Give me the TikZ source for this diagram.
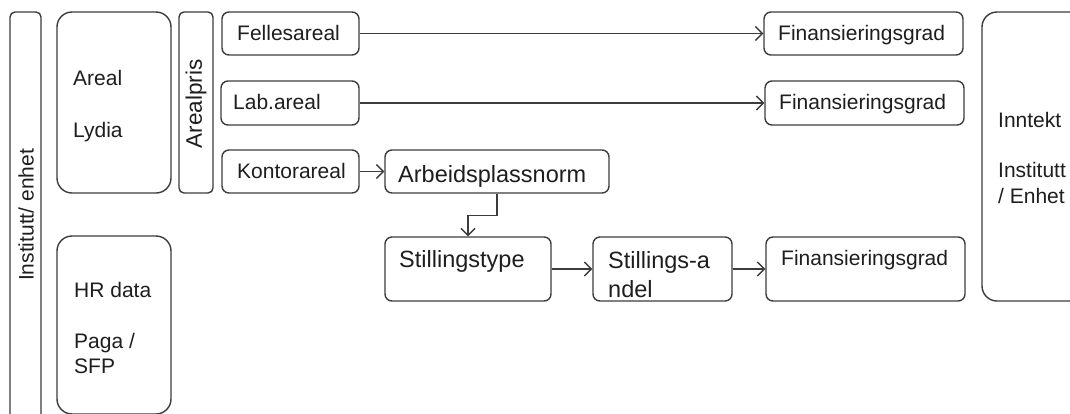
\documentclass[tikz,border=0pt]{standalone}
\usepackage{fontspec}
\setmainfont{Liberation Sans}
\usetikzlibrary{arrows.meta}
\definecolor{ln}{HTML}{3C3C3C}
\definecolor{tx}{HTML}{1E1E1E}
\tikzset{
  box/.style={draw=ln, line width=1.4pt, rounded corners=7pt, inner sep=0pt, fill=white},
  bigbox/.style={box, rounded corners=15pt},
  lbl/.style={anchor=base west, inner sep=0pt, text=tx, font=\fontsize{21}{25}\selectfont},
  biglbl/.style={lbl, font=\fontsize{23.5}{28}\selectfont},
  rotlbl/.style={text=tx, inner sep=0pt, rotate=90},
  conn/.style={draw=ln, line width=1.4pt, -{Straight Barb[length=7pt,width=14pt,line width=1.4pt]}},
}
\begin{document}
\begin{tikzpicture}[x=1pt,y=-1pt]
\fill[white] (0,0) rectangle (1070,413);
\clip (0,0) rectangle (1070,413);
% boxes
\node[box, rounded corners=5pt, minimum width=31pt, minimum height=428pt] (inst) at (25.5,226) {};
\node[bigbox, minimum width=114pt, minimum height=181pt] (areal) at (114,102.5) {};
\node[box, rounded corners=5pt, minimum width=34pt, minimum height=181pt] (pris) at (196,102.5) {};
\node[box, minimum width=137pt, minimum height=43pt] (felles) at (290.5,33.5) {};
\node[box, minimum width=138pt, minimum height=44pt] (lab) at (290,103) {};
\node[box, minimum width=137pt, minimum height=43pt] (kontor) at (290.5,171.5) {};
\node[box, minimum width=224pt, minimum height=43pt] (arb) at (497,171.5) {};
\node[box, minimum width=199pt, minimum height=43pt] (fin1) at (863.5,33.5) {};
\node[box, minimum width=199pt, minimum height=44pt] (fin2) at (864.5,103) {};
\node[box, minimum width=199pt, minimum height=64pt] (fin3) at (865.5,269) {};
\node[bigbox, minimum width=108pt, minimum height=289pt] (inn) at (1036,156.5) {};
\node[bigbox, minimum width=114pt, minimum height=178pt] (hr) at (114,325) {};
\node[box, minimum width=166pt, minimum height=64pt] (stype) at (468,269) {};
\node[box, minimum width=139pt, minimum height=64pt] (sand) at (662.5,269) {};
% labels
\node[rotlbl, font=\fontsize{21}{25}\selectfont] (instl) at (26,215) {Institutt/ enhet};
\node[lbl] (arealt) at (73,85) {Areal};
\node[lbl] (lydiat) at (73,137) {Lydia};
\node[rotlbl, font=\fontsize{22.5}{25}\selectfont] (prist) at (196,104) {Arealpris};
\node[lbl] (fellest) at (237,40) {Fellesareal};
\node[lbl] (labt) at (233,109) {Lab.areal};
\node[lbl] (kontort) at (237,178) {Kontorareal};
\node[biglbl] (arbt) at (398,182) {Arbeidsplassnorm};
\node[lbl] (fin1t) at (778,40) {Finansieringsgrad};
\node[lbl] (fin2t) at (779,109) {Finansieringsgrad};
\node[lbl] (fin3t) at (781,265) {Finansieringsgrad};
\node[lbl] (innt) at (998,127) {Inntekt};
\node[lbl] (instt) at (998,177) {Institutt};
\node[lbl] (enhett) at (998,203) {/ Enhet};
\node[lbl] (hrt) at (74,297) {HR data};
\node[lbl] (pagat) at (74,348) {Paga /};
\node[lbl] (sfpt) at (74,373) {SFP};
\node[biglbl] (stypet) at (399,267) {Stillingstype};
\node[biglbl] (sandt1) at (608,268) {Stillings-a};
\node[biglbl] (sandt2) at (608,297) {ndel};
% connectors
\draw[conn] (felles.east) -- (fin1.west);
\draw[conn] (lab.east) -- (fin2.west);
\draw[conn] (kontor.east) -- (arb.west);
\draw[conn] (arb.south) -- ++(0,22) -| (stype.north);
\draw[conn] (stype.east) -- (sand.west);
\draw[conn] (sand.east) -- (fin3.west);
\end{tikzpicture}
\end{document}
